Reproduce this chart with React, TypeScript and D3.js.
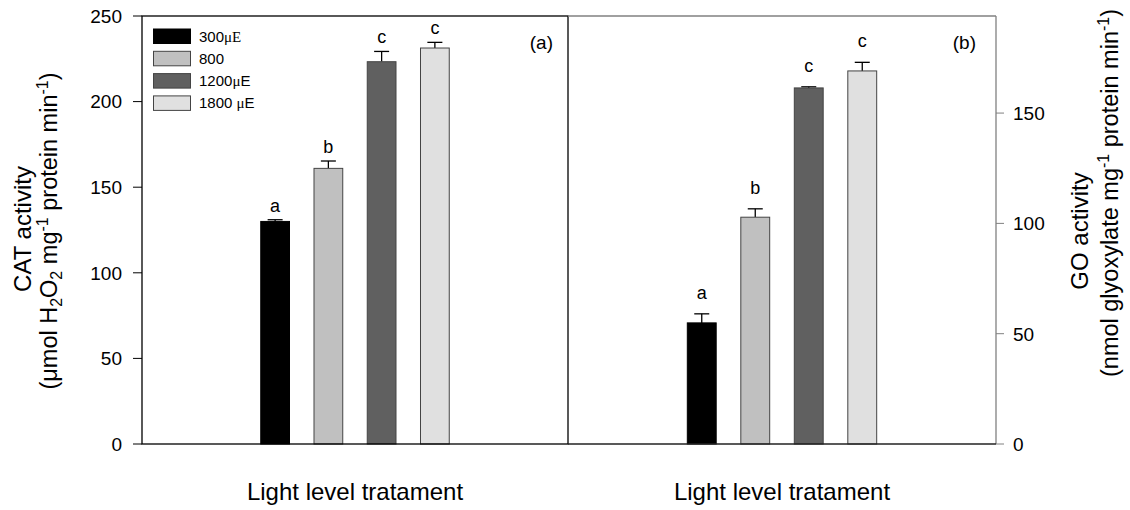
import React from 'react';
import * as d3 from 'd3';

// ---- data ----
const categories = ['300', '800', '1200', '1800'];
const catValues = [130, 161, 223.3, 231.3];
const catErrors = [1, 4.3, 6, 3.3];
const catLetters = ['a', 'b', 'c', 'c'];
const goValues = [54.9, 102.8, 161.4, 169.1];
const goErrors = [4.1, 3.8, 0.5, 3.9];
const goLetters = ['a', 'b', 'c', 'c'];
const catTicks = [0, 50, 100, 150, 200, 250];
const goTicks = [0, 50, 100, 150];
const fills = ['#000000', '#c0c0c0', '#606060', '#e0e0e0'];

const FONT = '"Liberation Sans", Arial, Helvetica, sans-serif';
const SERIF = '"Liberation Serif", "Times New Roman", serif';

const TOP = 16;
const BOTTOM = 444;
const LX0 = 142;
const MID = 568;
const RX1 = 996;

const yCat = d3.scaleLinear().domain([0, 250]).range([BOTTOM, TOP]);
const yGo = d3.scaleLinear().domain([0, 194]).range([BOTTOM, TOP]);

const xLeft = d3.scaleBand<string>().domain(categories).range([LX0, MID]).paddingInner(0.46).paddingOuter(2.23);
const xRight = d3.scaleBand<string>().domain(categories).range([MID, RX1]).paddingInner(0.46).paddingOuter(2.23);

function Bars({ x, y, values, errors, letters, letterOffset }: any) {
  const bw = x.bandwidth();
  return (
    <g>
      {categories.map((c, i) => {
        const x0 = x(c) as number;
        const top = y(values[i]);
        const errTop = y(values[i] + errors[i]);
        const cx = x0 + bw / 2;
        return (
          <g key={c}>
            <line x1={cx} x2={cx} y1={top} y2={errTop} stroke="#000" strokeWidth={1.3} />
            <line x1={cx - 7.5} x2={cx + 7.5} y1={errTop} y2={errTop} stroke="#000" strokeWidth={1.3} />
            <rect x={x0} y={top} width={bw} height={BOTTOM - top} fill={fills[i]} stroke={i === 0 ? '#000' : '#444'} strokeWidth={1} />
            <text x={cx} y={errTop - letterOffset} textAnchor="middle" fontSize={18} fontFamily={FONT} fill="#000">
              {letters[i]}
            </text>
          </g>
        );
      })}
    </g>
  );
}

function Legend() {
  const labels: any[] = [
    <>300<tspan fontFamily={SERIF}>μE</tspan></>,
    <>800</>,
    <>1200<tspan fontFamily={SERIF}>μ</tspan>E</>,
    <>1800 <tspan fontFamily={SERIF}>μ</tspan>E</>,
  ];
  return (
    <g>
      {categories.map((c, i) => {
        const yy = 29 + i * 22.3;
        return (
          <g key={c}>
            <rect x={153.5} y={yy} width={37} height={14.5} fill={fills[i]} stroke={i === 0 ? '#000' : '#444'} strokeWidth={1} />
            <text x={199} y={yy + 12.5} fontSize={15} fontFamily={FONT} fill="#000">
              {labels[i]}
            </text>
          </g>
        );
      })}
    </g>
  );
}

export default function App() {
  const sub = (s: string) => (
    <tspan fontSize={16} dy={5}>{s}</tspan>
  );
  return (
    <svg width={1130} height={510} viewBox="0 0 1130 510" style={{ position: 'absolute', left: 0, top: 0, display: 'block' }}>
      <rect x={0} y={0} width={1130} height={510} fill="#fff" />
      {/* left panel */}
      <Bars x={xLeft} y={yCat} values={catValues} errors={catErrors} letters={catLetters} letterOffset={8} />
      <Legend />
      <rect x={LX0} y={TOP} width={MID - LX0} height={BOTTOM - TOP} fill="none" stroke="#000" strokeWidth={1.3} />
      {catTicks.map((t) => (
        <g key={'ct' + t}>
          <line x1={LX0 - 9} x2={LX0} y1={yCat(t)} y2={yCat(t)} stroke="#000" strokeWidth={1} />
          <text x={122} y={yCat(t)} dy="0.36em" textAnchor="end" fontSize={19} fontFamily={FONT} fill="#000">
            {t}
          </text>
        </g>
      ))}
      <text x={553} y={49} textAnchor="end" fontSize={19} fontFamily={FONT} fill="#000">(a)</text>

      {/* right panel */}
      <Bars x={xRight} y={yGo} values={goValues} errors={goErrors} letters={goLetters} letterOffset={15} />
      <line x1={MID} x2={RX1} y1={TOP} y2={TOP} stroke="#808080" strokeWidth={1.3} />
      <line x1={RX1} x2={RX1} y1={TOP} y2={BOTTOM} stroke="#808080" strokeWidth={1.3} />
      <line x1={MID} x2={RX1} y1={BOTTOM} y2={BOTTOM} stroke="#222" strokeWidth={1.3} />
      {goTicks.map((t) => (
        <g key={'gt' + t}>
          <line x1={RX1} x2={RX1 + 8} y1={yGo(t)} y2={yGo(t)} stroke="#808080" strokeWidth={1} />
          <text x={1013} y={yGo(t)} dy="0.36em" textAnchor="start" fontSize={19} fontFamily={FONT} fill="#000">
            {t}
          </text>
        </g>
      ))}
      <text x={976} y={49} textAnchor="end" fontSize={19} fontFamily={FONT} fill="#000">(b)</text>

      {/* axis titles */}
      <text x={(LX0 + MID) / 2} y={500} textAnchor="middle" fontSize={24} fontFamily={FONT} fill="#000">Light level tratament</text>
      <text x={(MID + RX1) / 2} y={500} textAnchor="middle" fontSize={24} fontFamily={FONT} fill="#000">Light level tratament</text>

      <text transform="translate(31,229) rotate(-90)" textAnchor="middle" fontSize={24} fontFamily={FONT} fill="#000">CAT activity</text>
      <text transform="translate(57,231) rotate(-90)" textAnchor="middle" fontSize={23.5} fontFamily={FONT} fill="#000">
        (μmol H{sub('2')}<tspan dy={-5}>O</tspan>{sub('2')}<tspan dy={-5}> mg</tspan>
        <tspan fontSize={16} dy={-9}>-1</tspan>
        <tspan dy={9}>  protein min</tspan>
        <tspan fontSize={16} dy={-9}>-1</tspan>
        <tspan dy={9}>)</tspan>
      </text>

      <text transform="translate(1088,231) rotate(-90)" textAnchor="middle" fontSize={24} fontFamily={FONT} fill="#000">GO activity</text>
      <text transform="translate(1118,193) rotate(-90)" textAnchor="middle" fontSize={23.5} fontFamily={FONT} fill="#000">
        (nmol glyoxylate mg
        <tspan fontSize={16} dy={-9}>-1</tspan>
        <tspan dy={9}>  protein min</tspan>
        <tspan fontSize={16} dy={-9}>-1</tspan>
        <tspan dy={9}>)</tspan>
      </text>
    </svg>
  );
}
